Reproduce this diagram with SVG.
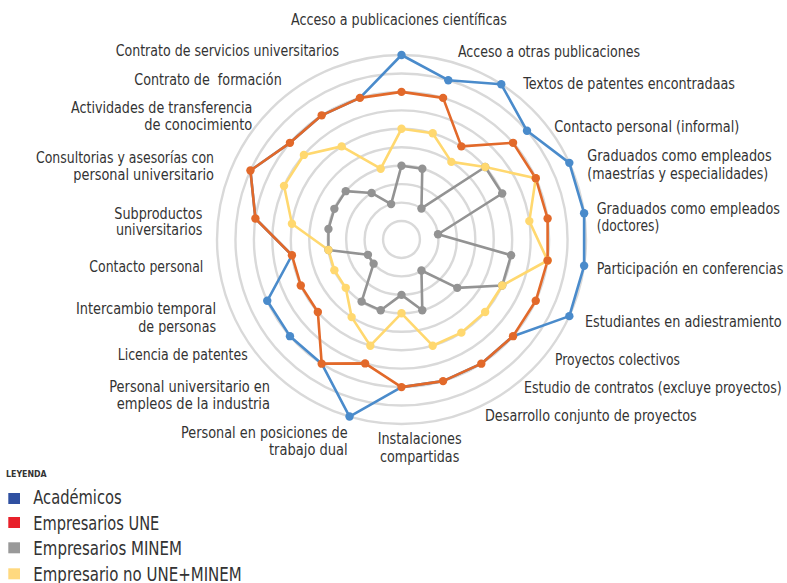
<svg xmlns="http://www.w3.org/2000/svg" width="787" height="583" viewBox="0 0 787 583">
<style>
.ring{fill:none;stroke:#d9d9d9;stroke-width:2.4}
.lbl{font-family:"Liberation Sans Narrow","DejaVu Sans Condensed","Liberation Sans",sans-serif;font-size:16px;fill:#333333}
.leg{font-family:"Liberation Sans Narrow","DejaVu Sans Condensed","Liberation Sans",sans-serif;font-size:19px;fill:#333333}
.legt{font-family:"Liberation Sans Narrow","DejaVu Sans Condensed","Liberation Sans",sans-serif;font-size:9.5px;font-weight:bold;fill:#333333}
.s{fill:none;stroke-width:2.6;stroke-linejoin:round}
.blue{stroke:#4a8bcb}.blue circle,circle.blue{fill:#4a8bcb}
.orange{stroke:#e2692a}
.gray{stroke:#939393}
.yellow{stroke:#ffd86f}
.mb{fill:#4a8bcb}.mo{fill:#e2692a}.mg{fill:#939393}.my{fill:#ffd86f}
</style>
<rect width="787" height="583" fill="#ffffff"/>
<g id="grid">
<circle class="ring" cx="401.5" cy="239.5" r="18.45"/>
<circle class="ring" cx="401.5" cy="239.5" r="36.9"/>
<circle class="ring" cx="401.5" cy="239.5" r="55.35"/>
<circle class="ring" cx="401.5" cy="239.5" r="73.8"/>
<circle class="ring" cx="401.5" cy="239.5" r="92.25"/>
<circle class="ring" cx="401.5" cy="239.5" r="110.7"/>
<circle class="ring" cx="401.5" cy="239.5" r="129.15"/>
<circle class="ring" cx="401.5" cy="239.5" r="147.6"/>
<circle class="ring" cx="401.5" cy="239.5" r="166.05"/>
<circle class="ring" cx="401.5" cy="239.5" r="184.5"/>
</g>
<defs>
<circle id="dot" r="4.2"/>
</defs>
<g id="connectors">
<polygon id="s-gray" class="s gray" points="401.5,165.7 422.29,168.69 421.45,208.46 485.16,167.01 502.2,193.51 438.02,234.25 511.07,255.25 502.2,285.49 457.27,287.83 421.45,270.54 422.29,310.31 401.5,294.85 380.71,310.31 361.6,301.58 373.61,263.66 367.93,254.83 328.45,250 328.45,229 334.37,208.84 345.73,191.17 371.58,192.94 391.1,204.09"/>
<polygon id="s-yellow" class="s yellow" points="401.5,128.8 432.69,133.28 451.37,161.89 485.16,167.01 535.76,178.18 529.33,221.12 547.6,260.5 502.2,285.49 485.16,311.99 461.35,332.63 432.69,345.72 401.5,313.3 370.31,345.72 351.63,317.11 345.73,287.83 334.37,270.16 328.45,250 291.93,223.75 284.02,185.85 303.89,154.92 341.65,146.37 380.71,168.69"/>
<polygon id="s-blue" class="s blue" points="401.5,55 448.28,80.18 501.25,84.29 526.99,130.76 569.33,162.86 584.12,213.24 584.12,265.76 569.33,316.14 513.05,336.16 481.3,363.67 443.08,381.12 401.5,387.1 349.52,416.53 321.7,363.67 289.95,336.16 267.24,300.82 291.93,255.25 255.4,218.5 250.45,170.52 289.95,142.84 321.7,115.33 359.92,97.88"/>
<polygon id="s-orange" class="s orange" points="401.5,91.9 443.08,97.88 461.35,146.37 513.05,142.84 535.76,178.18 547.6,218.5 547.6,260.5 535.76,300.82 513.05,336.16 481.3,363.67 443.08,381.12 401.5,387.1 365.11,363.42 321.7,363.67 317.84,311.99 300.8,285.49 291.93,255.25 255.4,218.5 250.45,170.52 289.95,142.84 321.7,115.33 359.92,97.88"/>
</g>
<g id="markers-gray" class="mg">
<use href="#dot" x="401.5" y="165.7"/><use href="#dot" x="422.29" y="168.69"/><use href="#dot" x="421.45" y="208.46"/><use href="#dot" x="485.16" y="167.01"/><use href="#dot" x="502.2" y="193.51"/><use href="#dot" x="438.02" y="234.25"/><use href="#dot" x="511.07" y="255.25"/><use href="#dot" x="502.2" y="285.49"/><use href="#dot" x="457.27" y="287.83"/><use href="#dot" x="421.45" y="270.54"/><use href="#dot" x="422.29" y="310.31"/><use href="#dot" x="401.5" y="294.85"/><use href="#dot" x="380.71" y="310.31"/><use href="#dot" x="361.6" y="301.58"/><use href="#dot" x="373.61" y="263.66"/><use href="#dot" x="367.93" y="254.83"/><use href="#dot" x="328.45" y="250"/><use href="#dot" x="328.45" y="229"/><use href="#dot" x="334.37" y="208.84"/><use href="#dot" x="345.73" y="191.17"/><use href="#dot" x="371.58" y="192.94"/><use href="#dot" x="391.1" y="204.09"/>
</g>
<g id="markers-yellow" class="my">
<use href="#dot" x="401.5" y="128.8"/><use href="#dot" x="432.69" y="133.28"/><use href="#dot" x="451.37" y="161.89"/><use href="#dot" x="485.16" y="167.01"/><use href="#dot" x="535.76" y="178.18"/><use href="#dot" x="529.33" y="221.12"/><use href="#dot" x="547.6" y="260.5"/><use href="#dot" x="502.2" y="285.49"/><use href="#dot" x="485.16" y="311.99"/><use href="#dot" x="461.35" y="332.63"/><use href="#dot" x="432.69" y="345.72"/><use href="#dot" x="401.5" y="313.3"/><use href="#dot" x="370.31" y="345.72"/><use href="#dot" x="351.63" y="317.11"/><use href="#dot" x="345.73" y="287.83"/><use href="#dot" x="334.37" y="270.16"/><use href="#dot" x="328.45" y="250"/><use href="#dot" x="291.93" y="223.75"/><use href="#dot" x="284.02" y="185.85"/><use href="#dot" x="303.89" y="154.92"/><use href="#dot" x="341.65" y="146.37"/><use href="#dot" x="380.71" y="168.69"/>
</g>
<g id="markers-blue" class="mb">
<use href="#dot" x="401.5" y="55"/><use href="#dot" x="448.28" y="80.18"/><use href="#dot" x="501.25" y="84.29"/><use href="#dot" x="526.99" y="130.76"/><use href="#dot" x="569.33" y="162.86"/><use href="#dot" x="584.12" y="213.24"/><use href="#dot" x="584.12" y="265.76"/><use href="#dot" x="569.33" y="316.14"/><use href="#dot" x="349.52" y="416.53"/><use href="#dot" x="289.95" y="336.16"/><use href="#dot" x="267.24" y="300.82"/>
</g>
<g id="markers-orange" class="mo">
<use href="#dot" x="401.5" y="91.9"/><use href="#dot" x="443.08" y="97.88"/><use href="#dot" x="461.35" y="146.37"/><use href="#dot" x="513.05" y="142.84"/><use href="#dot" x="535.76" y="178.18"/><use href="#dot" x="547.6" y="218.5"/><use href="#dot" x="547.6" y="260.5"/><use href="#dot" x="535.76" y="300.82"/><use href="#dot" x="513.05" y="336.16"/><use href="#dot" x="481.3" y="363.67"/><use href="#dot" x="443.08" y="381.12"/><use href="#dot" x="401.5" y="387.1"/><use href="#dot" x="365.11" y="363.42"/><use href="#dot" x="321.7" y="363.67"/><use href="#dot" x="317.84" y="311.99"/><use href="#dot" x="300.8" y="285.49"/><use href="#dot" x="291.93" y="255.25"/><use href="#dot" x="255.4" y="218.5"/><use href="#dot" x="250.45" y="170.52"/><use href="#dot" x="289.95" y="142.84"/><use href="#dot" x="321.7" y="115.33"/><use href="#dot" x="359.92" y="97.88"/>
</g>
<g id="labels" class="lbl">
<g id="ax0"><text x="291" y="24.5" textLength="216" lengthAdjust="spacingAndGlyphs">Acceso a publicaciones científicas</text></g>
<g id="ax1"><text x="458" y="57" textLength="182" lengthAdjust="spacingAndGlyphs">Acceso a otras publicaciones</text></g>
<g id="ax2"><text x="523.3" y="88.5" textLength="211.7" lengthAdjust="spacingAndGlyphs">Textos de patentes encontradaas</text></g>
<g id="ax3"><text x="554.3" y="131.5" textLength="185" lengthAdjust="spacingAndGlyphs">Contacto personal (informal)</text></g>
<g id="ax4"><text x="587.3" y="160.5" textLength="184.4" lengthAdjust="spacingAndGlyphs">Graduados como empleados</text><text x="587.3" y="178.5" textLength="181" lengthAdjust="spacingAndGlyphs">(maestrías y especialidades)</text></g>
<g id="ax5"><text x="596.7" y="213.5" textLength="183.3" lengthAdjust="spacingAndGlyphs">Graduados como empleados</text><text x="596.7" y="231" textLength="62.6" lengthAdjust="spacingAndGlyphs">(doctores)</text></g>
<g id="ax6"><text x="596.7" y="274" textLength="186.6" lengthAdjust="spacingAndGlyphs">Participación en conferencias</text></g>
<g id="ax7"><text x="585" y="327" textLength="196.7" lengthAdjust="spacingAndGlyphs">Estudiantes en adiestramiento</text></g>
<g id="ax8"><text x="555" y="365" textLength="125" lengthAdjust="spacingAndGlyphs">Proyectos colectivos</text></g>
<g id="ax9"><text x="524" y="392.5" textLength="257.7" lengthAdjust="spacingAndGlyphs">Estudio de contratos (excluye proyectos)</text></g>
<g id="ax10"><text x="485" y="421" textLength="211.7" lengthAdjust="spacingAndGlyphs">Desarrollo conjunto de proyectos</text></g>
<g id="ax11"><text x="377.7" y="444" textLength="84" lengthAdjust="spacingAndGlyphs">Instalaciones</text><text x="380" y="462" textLength="79.3" lengthAdjust="spacingAndGlyphs">compartidas</text></g>
<g id="ax12"><text x="181" y="438" textLength="166.7" lengthAdjust="spacingAndGlyphs">Personal en posiciones de</text><text x="269" y="455" textLength="78.7" lengthAdjust="spacingAndGlyphs">trabajo dual</text></g>
<g id="ax13"><text x="109.3" y="391.5" textLength="160.7" lengthAdjust="spacingAndGlyphs">Personal universitario en</text><text x="116.7" y="409" textLength="153.3" lengthAdjust="spacingAndGlyphs">empleos de la industria</text></g>
<g id="ax14"><text x="117.7" y="360" textLength="130" lengthAdjust="spacingAndGlyphs">Licencia de patentes</text></g>
<g id="ax15"><text x="76" y="314" textLength="140" lengthAdjust="spacingAndGlyphs">Intercambio temporal</text><text x="138.3" y="331.5" textLength="77.7" lengthAdjust="spacingAndGlyphs">de personas</text></g>
<g id="ax16"><text x="89.3" y="271.5" textLength="114" lengthAdjust="spacingAndGlyphs">Contacto personal</text></g>
<g id="ax17"><text x="114.3" y="219" textLength="88" lengthAdjust="spacingAndGlyphs">Subproductos</text><text x="116" y="235" textLength="86.3" lengthAdjust="spacingAndGlyphs">universitarios</text></g>
<g id="ax18"><text x="36" y="162.5" textLength="178" lengthAdjust="spacingAndGlyphs">Consultorias y asesorías con</text><text x="73.3" y="180" textLength="140.7" lengthAdjust="spacingAndGlyphs">personal universitario</text></g>
<g id="ax19"><text x="71" y="113" textLength="181.3" lengthAdjust="spacingAndGlyphs">Actividades de transferencia</text><text x="144.3" y="130" textLength="108" lengthAdjust="spacingAndGlyphs">de conocimiento</text></g>
<g id="ax20"><text x="134.3" y="85" textLength="147.4" lengthAdjust="spacingAndGlyphs" xml:space="preserve">Contrato de  formación</text></g>
<g id="ax21"><text x="115.7" y="55.5" textLength="223.3" lengthAdjust="spacingAndGlyphs">Contrato de servicios universitarios</text></g>
</g>
<g id="legend">
<text class="legt" x="6" y="477" textLength="40.7" lengthAdjust="spacingAndGlyphs">LEYENDA</text>
<g id="leg-academicos"><rect x="8.3" y="493" width="11.7" height="11" fill="#2f50a1"/><text class="leg" x="33.3" y="504" textLength="88.4" lengthAdjust="spacingAndGlyphs">Académicos</text></g>
<g id="leg-une"><rect x="8.3" y="517" width="11.7" height="11" fill="#e8202a"/><text class="leg" x="33.3" y="529.5" textLength="126" lengthAdjust="spacingAndGlyphs">Empresarios UNE</text></g>
<g id="leg-minem"><rect x="8.3" y="542.3" width="11.7" height="11" fill="#999999"/><text class="leg" x="33.3" y="555" textLength="148.7" lengthAdjust="spacingAndGlyphs">Empresarios MINEM</text></g>
<g id="leg-otros"><rect x="8.3" y="568.3" width="11.7" height="11" fill="#ffd97f"/><text class="leg" x="33.3" y="581" textLength="208.4" lengthAdjust="spacingAndGlyphs">Empresario no UNE+MINEM</text></g>
</g>
</svg>
